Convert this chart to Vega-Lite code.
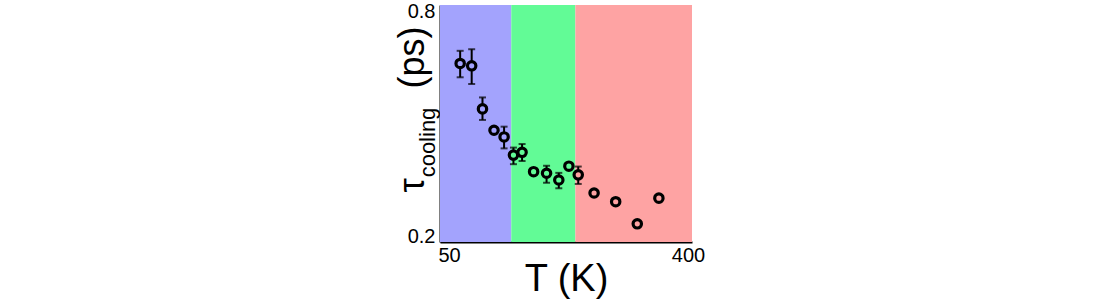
{
  "$schema": "https://vega.github.io/schema/vega-lite/v6.json",
  "width": 252,
  "height": 237,
  "autosize": {"type": "none"},
  "padding": {"left": 440, "top": 5, "right": 408, "bottom": 58},
  "background": "white",
  "config": {"view": {"stroke": null}, "font": "Liberation Sans"},
  "datasets": {
    "regions": [
      {"start": 50, "end": 149, "phase": "low"},
      {"start": 149, "end": 238, "phase": "mid"},
      {"start": 238, "end": 400, "phase": "high"}
    ],
    "points": [
      {"T": 78, "tau": 0.652, "lo": 0.617, "hi": 0.684, "phase": "low"},
      {"T": 94, "tau": 0.646, "lo": 0.600, "hi": 0.688, "phase": "low"},
      {"T": 109, "tau": 0.537, "lo": 0.509, "hi": 0.566, "phase": "low"},
      {"T": 125, "tau": 0.483, "lo": null, "hi": null, "phase": "low"},
      {"T": 139, "tau": 0.466, "lo": 0.437, "hi": 0.492, "phase": "low"},
      {"T": 152, "tau": 0.420, "lo": 0.397, "hi": 0.439, "phase": "mid"},
      {"T": 164, "tau": 0.427, "lo": 0.405, "hi": 0.448, "phase": "mid"},
      {"T": 180, "tau": 0.378, "lo": null, "hi": null, "phase": "mid"},
      {"T": 198, "tau": 0.374, "lo": 0.350, "hi": 0.393, "phase": "mid"},
      {"T": 215, "tau": 0.357, "lo": 0.336, "hi": 0.375, "phase": "mid"},
      {"T": 229, "tau": 0.392, "lo": null, "hi": null, "phase": "mid"},
      {"T": 242, "tau": 0.370, "lo": 0.347, "hi": 0.391, "phase": "high"},
      {"T": 264, "tau": 0.324, "lo": null, "hi": null, "phase": "high"},
      {"T": 294, "tau": 0.302, "lo": null, "hi": null, "phase": "high"},
      {"T": 324, "tau": 0.246, "lo": null, "hi": null, "phase": "high"},
      {"T": 354, "tau": 0.311, "lo": null, "hi": null, "phase": "high"}
    ]
  },
  "layer": [
    {
      "data": {"name": "regions"},
      "mark": {"type": "rect", "opacity": 1},
      "encoding": {
        "x": {
          "field": "start", "type": "quantitative", "title": "T (K)",
          "scale": {"domain": [50, 400], "nice": false, "zero": false},
          "axis": {
            "values": [50, 400], "ticks": false, "grid": false,
            "domainColor": "black", "domainWidth": 2,
            "labelFontSize": 20, "labelColor": "black", "labelPadding": 3,
            "labelAlign": {"expr": "datum.value == 50 ? 'left' : 'center'"},
            "labelOffset": {"expr": "datum.value == 50 ? -2 : -4"},
            "title": "T (K)", "titleFontSize": 38, "titleFontWeight": "normal",
            "titleColor": "black", "titleY": 48, "titleBaseline": "alphabetic"
          }
        },
        "x2": {"field": "end"},
        "fill": {
          "field": "phase", "type": "nominal",
          "scale": {"domain": ["low", "mid", "high"], "range": ["#a3a3fd", "#62fb96", "#fea3a3"]},
          "legend": null
        }
      }
    },
    {
      "data": {"name": "points"},
      "transform": [{"filter": "datum.lo != null"}],
      "mark": {"type": "errorbar", "color": "black", "thickness": 2, "ticks": {"size": 7, "thickness": 2, "color": "black"}},
      "encoding": {
        "x": {"field": "T", "type": "quantitative", "title": "T (K)"},
        "y": {
          "field": "lo", "type": "quantitative",
          "scale": {"domain": [0.2, 0.8], "nice": false, "zero": false},
          "axis": {
            "values": [0.2, 0.8], "labelFlush": true, "labelFlushOffset": 4, "ticks": false, "grid": false,
            "domainColor": "black", "domainWidth": 2,
            "labelFontSize": 20, "labelColor": "black", "labelPadding": 5,
            "title": "τ\u2003\u2003\u2002(ps)", "titleFontSize": 36, "titleFontWeight": "normal",
            "titleColor": "black", "titleX": -17, "titleY": 104, "titleAngle": 270,
            "titleAlign": "center", "titleBaseline": "alphabetic"
          }
        },
        "y2": {"field": "hi"}
      }
    },
    {
      "data": {"name": "points"},
      "mark": {"type": "point", "shape": "circle", "size": 70, "strokeWidth": 3.2, "stroke": "black", "filled": true, "opacity": 1},
      "encoding": {
        "x": {"field": "T", "type": "quantitative", "title": "T (K)"},
        "y": {
          "field": "tau", "type": "quantitative",
          "scale": {"domain": [0.2, 0.8], "nice": false, "zero": false},
          "axis": {
            "orient": "left", "labels": false, "ticks": false, "domain": false, "grid": false,
            "title": "cooling", "titleFontSize": 22, "titleFontWeight": "normal",
            "titleColor": "black", "titleX": -6, "titleY": 137, "titleAngle": 270,
            "titleAlign": "center", "titleBaseline": "alphabetic"
          }
        },
        "fill": {
          "field": "phase", "type": "nominal",
          "scale": {"domain": ["low", "mid", "high"], "range": ["#a3a3fd", "#62fb96", "#fea3a3"]},
          "legend": null
        }
      }
    }
  ],
  "resolve": {"axis": {"y": "independent"}}
}
